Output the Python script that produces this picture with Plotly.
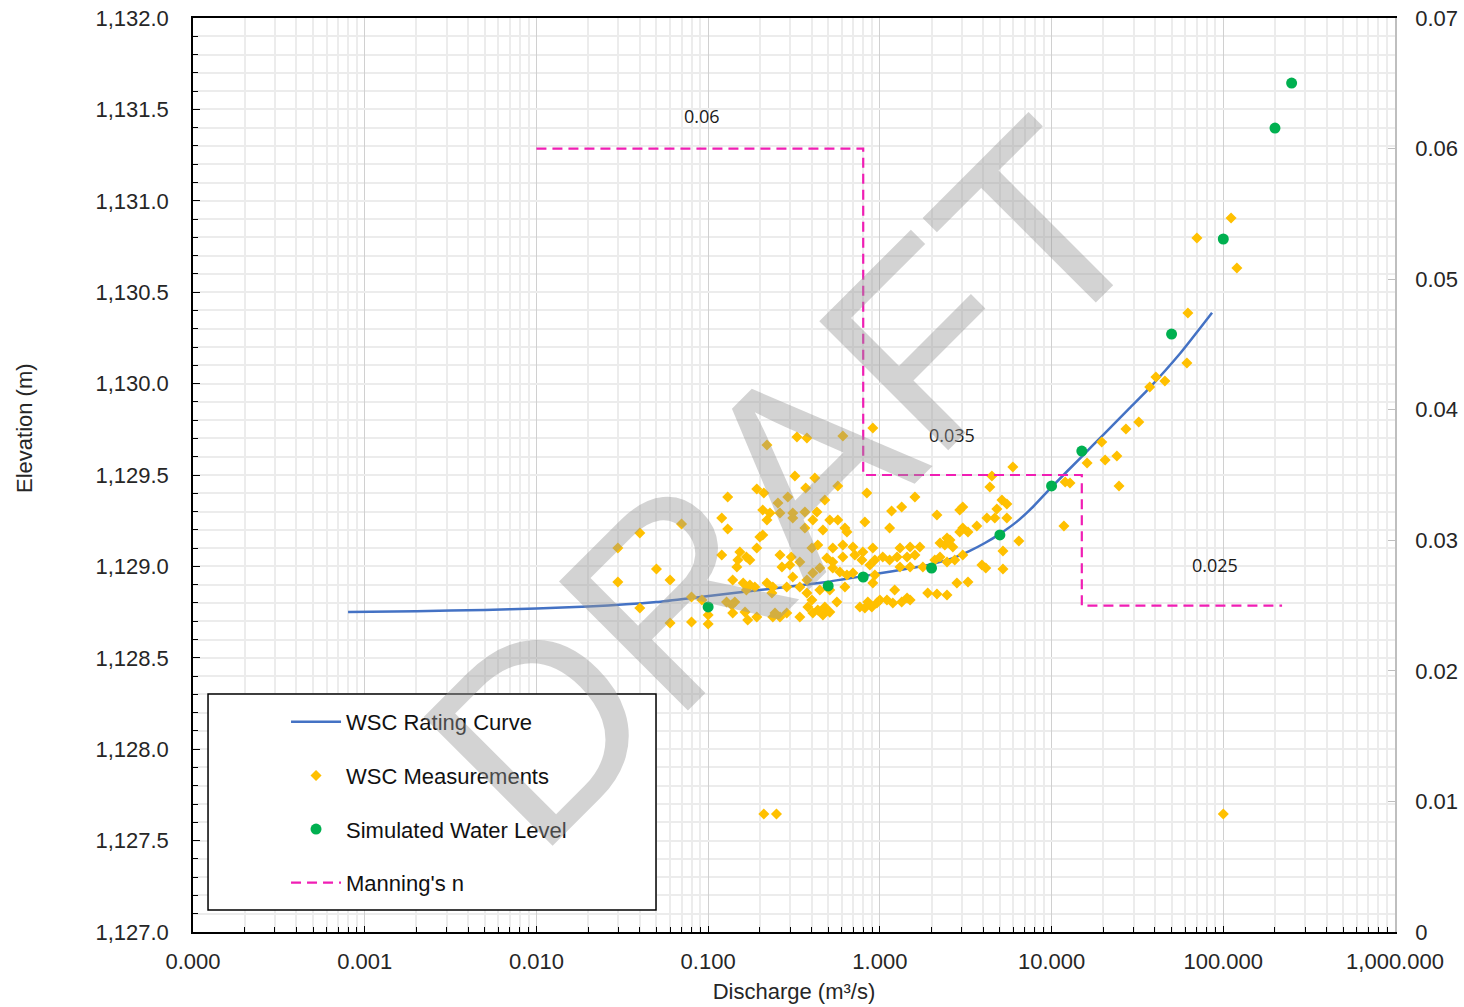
import math
import plotly.graph_objects as go

# ---- Rating curve (discharge m3/s, elevation m) ----
curve_q = [0.0008, 0.002, 0.005, 0.01, 0.02, 0.05, 0.09, 0.22, 0.49, 1.0, 1.36, 2.0,
           2.66, 3.34, 4.09, 5.0, 6.28, 7.78, 10.0, 15.0, 20.0, 28.0, 36.0, 56.0, 86.0]
curve_elev = [1128.751, 1128.755, 1128.762, 1128.770, 1128.780, 1128.805, 1128.833,
              1128.875, 1128.915, 1128.962, 1128.983, 1129.012, 1129.045, 1129.085,
              1129.128, 1129.178, 1129.245, 1129.325, 1129.434, 1129.601, 1129.720,
              1129.859, 1129.963, 1130.165, 1130.388]

# ---- Gauge measurements ----
meas_q = [
    0.0298, 0.0298, 0.040, 0.040, 0.050, 0.060, 0.060, 0.070, 0.080, 0.080, 0.092, 0.10, 0.10,
    0.12, 0.12, 0.13, 0.13, 0.192, 0.211, 0.22, 0.329, 0.376, 0.609, 0.91, 0.32, 0.418, 0.37,
    0.569, 0.478, 0.291, 0.255, 0.208, 0.229, 0.262, 0.311, 0.366, 0.43, 0.22, 0.311, 0.407,
    0.366, 0.511, 0.569, 0.626, 0.643, 0.818, 0.466, 0.20, 0.208, 0.192, 0.167, 0.153, 0.149,
    0.175, 0.147, 0.139, 0.16, 0.175, 0.22, 0.238, 0.262, 0.305, 0.269, 0.299, 0.342, 0.402,
    0.435, 0.491, 0.532, 0.609, 0.532, 0.609, 0.697, 0.715, 0.796, 0.91, 0.786, 0.875, 0.935,
    0.643, 0.585, 0.532, 0.447, 0.407, 0.311, 0.376, 0.342, 0.287, 0.235, 0.187, 0.167, 0.143,
    0.137, 0.128, 0.164, 0.139, 0.17, 0.192, 0.245, 0.262, 0.287, 0.238, 0.342, 0.381, 0.407,
    0.435, 0.466, 0.511, 0.478, 0.402, 0.376, 0.765, 0.818, 0.898, 0.961, 0.851, 0.91, 0.935,
    0.697, 0.626, 0.562, 0.511, 0.447,
    0.84, 5.95, 4.49, 4.37, 5.14, 5.49, 4.80, 4.20, 4.67, 5.49, 6.45, 5.21, 5.21, 3.93, 4.14,
    2.81, 3.26, 2.46, 2.15, 1.90, 2.15, 1.60, 1.34, 1.17, 1.14, 2.92, 3.04, 3.67, 3.26, 3.04,
    2.92, 2.56, 2.46, 2.24, 2.66, 2.39, 12.0, 12.8, 11.8, 16.1, 19.6, 20.5, 24.0, 24.7, 27.1,
    32.2, 3.04, 2.73, 2.46, 2.24, 2.09, 1.71, 1.50, 1.31, 1.60, 1.44, 1.26, 1.14, 1.04, 1.31,
    1.50, 1.78, 1.22, 1.44, 1.34, 1.50, 1.19, 1.10, 1.0,
    111.0, 70.2, 120.0, 62.2, 61.4, 40.5, 37.3, 45.7,
    0.211, 0.25, 100.0,
]
meas_elev = [
    1129.101, 1128.915, 1129.183, 1128.772, 1128.986, 1128.926, 1128.690, 1129.232, 1128.833,
    1128.696, 1128.816, 1128.734, 1128.685, 1129.265, 1129.062, 1129.380, 1129.205, 1129.423,
    1129.402, 1129.664, 1129.708, 1129.702, 1129.713, 1129.757, 1129.495, 1129.484, 1129.429,
    1129.440, 1129.363, 1129.380, 1129.347, 1129.309, 1129.292, 1129.292, 1129.292, 1129.298,
    1129.298, 1129.254, 1129.265, 1129.254, 1129.210, 1129.254, 1129.254, 1129.210, 1129.188,
    1129.243, 1129.199, 1129.161, 1129.172, 1129.101, 1129.051, 1129.079, 1129.035, 1129.035,
    1128.997, 1128.926, 1128.909, 1128.898, 1128.909, 1128.887, 1129.062, 1129.051, 1128.997,
    1129.008, 1129.024, 1129.101, 1129.117, 1129.046, 1129.024, 1129.051, 1129.101, 1129.117,
    1129.106, 1129.062, 1129.079, 1129.101, 1129.035, 1129.008, 1129.035, 1128.953, 1128.969,
    1128.991, 1128.991, 1128.964, 1128.942, 1128.926, 1128.887, 1128.887, 1128.855, 1128.887,
    1128.871, 1128.805, 1128.789, 1128.805, 1128.750, 1128.745, 1128.707, 1128.723, 1128.745,
    1128.723, 1128.745, 1128.723, 1128.723, 1128.778, 1128.745, 1128.761, 1128.734, 1128.750,
    1128.778, 1128.816, 1128.855, 1128.778, 1128.772, 1128.778, 1128.800, 1128.805, 1128.909,
    1128.953, 1128.964, 1128.887, 1128.805, 1128.871, 1128.871,
    1129.402, 1129.544, 1129.495, 1129.434, 1129.363, 1129.341, 1129.314, 1129.265, 1129.265,
    1129.265, 1129.139, 1129.084, 1128.986, 1129.008, 1128.991, 1128.909, 1128.915, 1128.844,
    1128.849, 1128.855, 1129.281, 1129.380, 1129.325, 1129.303, 1129.210, 1129.309, 1129.325,
    1129.221, 1129.188, 1129.210, 1129.188, 1129.144, 1129.155, 1129.128, 1129.106, 1129.117,
    1129.462, 1129.456, 1129.221, 1129.566, 1129.681, 1129.582, 1129.604, 1129.440, 1129.752,
    1129.790, 1129.062, 1129.035, 1129.024, 1129.051, 1129.035, 1129.106, 1129.106, 1129.101,
    1129.062, 1129.051, 1129.051, 1129.035, 1129.051, 1128.997, 1128.997, 1128.997, 1128.871,
    1128.827, 1128.805, 1128.816, 1128.800, 1128.816, 1128.816,
    1130.906, 1130.797, 1130.632, 1130.386, 1130.113, 1130.036, 1129.981, 1130.014,
    1127.646, 1127.646, 1127.646,
]

# ---- Hydraulic model results ----
sim_q = [0.1, 0.5, 0.8, 2.0, 5.0, 10.0, 15.0, 50.0, 100.0, 200.0, 250.0]
sim_elev = [1128.778, 1128.893, 1128.942, 1128.991, 1129.172, 1129.440, 1129.631,
            1130.271, 1130.791, 1131.398, 1131.644]

# ---- Manning's n zones (secondary axis) ----
mannings_q = [0.01, 0.8, 0.8, 15.0, 15.0, 220.0]
mannings_n = [0.06, 0.06, 0.035, 0.035, 0.025, 0.025]
# label placement (discharge) for each roughness zone
zone_label_q = [0.092, 2.63, 89.6]
zone_n = [0.06, 0.035, 0.025]
zone_label_lift = [19, 26, 27]  # px above the zone line

# ---- Axis tick labels ----
x_tickvals = [1e-4, 1e-3, 1e-2, 1e-1, 1, 10, 100, 1000]
x_ticktext = ["0.000", "0.001", "0.010", "0.100", "1.000", "10.000", "100.000", "1,000.000"]
y2_tickvals = [0, 0.01, 0.02, 0.03, 0.04, 0.05, 0.06, 0.07]
y2_ticktext = ["0", "0.01", "0.02", "0.03", "0.04", "0.05", "0.06", "0.07"]

FONT = "Liberation Sans, Arial, sans-serif"
TXT = "#262626"
GRID = "#ECECEC"

# minor log ticks 2..9 in each decade
x_minor = [m * 10.0 ** d for d in range(-4, 3) for m in range(2, 10)]

fig = go.Figure()

fig.add_trace(go.Scatter(
    x=curve_q, y=curve_elev, mode="lines", name="WSC Rating Curve",
    line=dict(color="#4472C4", width=2.5, shape="spline", smoothing=0.5),
    legendgroup="a",
))
fig.add_trace(go.Scatter(
    x=meas_q, y=meas_elev, mode="markers", name="WSC Measurements",
    marker=dict(symbol="diamond", size=8.5, color="#FFC000", line=dict(width=0)),
    legendgroup="b",
))
fig.add_trace(go.Scatter(
    x=sim_q, y=sim_elev, mode="markers", name="Simulated Water Level",
    marker=dict(symbol="circle", size=11, color="#00B050", line=dict(width=0)),
    legendgroup="c",
))
fig.add_trace(go.Scatter(
    x=mannings_q, y=mannings_n, mode="lines", name="Manning's n", yaxis="y2",
    line=dict(color="#F01EB4", width=2.2, dash="10px,6px"),
    legendgroup="d",
))

annotations = []
for q, n, lift in zip(zone_label_q, zone_n, zone_label_lift):
    annotations.append(dict(
        x=math.log10(q), y=n, xref="x", yref="y2", text=f"{n:g}", showarrow=False,
        xanchor="center", yanchor="bottom", yshift=lift,
        font=dict(family="Open Sans, sans-serif", size=18, color="#1a1a1a"),
    ))

# vertical axis title, set slightly above the axis centre
annotations.append(dict(
    x=-0.1406, y=0.5514, xref="paper", yref="paper", text="Elevation (m)",
    showarrow=False, textangle=-90, xanchor="center", yanchor="middle",
    font=dict(family=FONT, size=22, color=TXT),
))

# watermark
annotations.append(dict(
    x=0.492, y=0.49, xref="paper", yref="paper", text="DRAFT", showarrow=False,
    textangle=-45, xanchor="center", yanchor="middle",
    font=dict(family=FONT, size=265, color="rgba(150,150,150,0.42)"),
))

fig.update_layout(
    width=1464, height=1007,
    margin=dict(l=193, r=69, t=18, b=75),
    paper_bgcolor="white", plot_bgcolor="white",
    font=dict(family=FONT, size=22, color=TXT),
    showlegend=True,
    legend=dict(
        x=0.0774, y=0.2527, xanchor="left", yanchor="top",
        bgcolor="rgba(0,0,0,0)", borderwidth=0,
        font=dict(family=FONT, size=22, color="#111111"),
        itemwidth=50, traceorder="grouped", tracegroupgap=22,
    ),
    shapes=[dict(
        type="rect", xref="paper", yref="paper",
        x0=0.0125, x1=0.3852, y0=0.024, y1=0.2604,
        fillcolor="white", line=dict(color="black", width=1.5), layer="above",
    )],
    annotations=annotations,
    xaxis=dict(
        type="log", range=[-4, 3],
        tickmode="array", tickvals=x_tickvals, ticktext=x_ticktext,
        ticks="inside", ticklen=6, tickcolor="black", tickwidth=1.2,
        showline=True, linecolor="black", linewidth=1.5, mirror=True,
        showgrid=True, gridcolor="#D0D0D0", gridwidth=1.2,
        minor=dict(tickvals=x_minor, ticks="inside", ticklen=5, tickcolor="black",
                   showgrid=True, gridcolor=GRID, gridwidth=1.5),
        zeroline=False,
        tickfont=dict(size=22, color=TXT),
        ticklabelstandoff=9,
        title=dict(text="Discharge (m³/s)", font=dict(size=22, color=TXT), standoff=10),
        automargin=False,
    ),
    yaxis=dict(
        range=[1127, 1132], tick0=1127, dtick=0.5, tickformat=",.1f",
        ticks="inside", ticklen=7, tickcolor="black", tickwidth=1.2,
        showline=True, linecolor="black", linewidth=1.5,
        showgrid=True, gridcolor=GRID, gridwidth=1.5,
        minor=dict(dtick=0.1, ticks="inside", ticklen=5, tickcolor="black",
                   showgrid=True, gridcolor=GRID, gridwidth=1.5),
        zeroline=False,
        tickfont=dict(size=22, color=TXT),
        ticklabelstandoff=18,
        automargin=False,
    ),
    yaxis2=dict(
        overlaying="y", side="right", range=[0, 0.07],
        tickmode="array", tickvals=y2_tickvals, ticktext=y2_ticktext,
        ticks="inside", ticklen=7, tickcolor="#BFBFBF",
        showline=True, linecolor="#BFBFBF", linewidth=1.5,
        showgrid=False, zeroline=False,
        tickfont=dict(size=22, color=TXT),
        ticklabelstandoff=14,
        automargin=False,
    ),
)

fig.write_html("out.html")
